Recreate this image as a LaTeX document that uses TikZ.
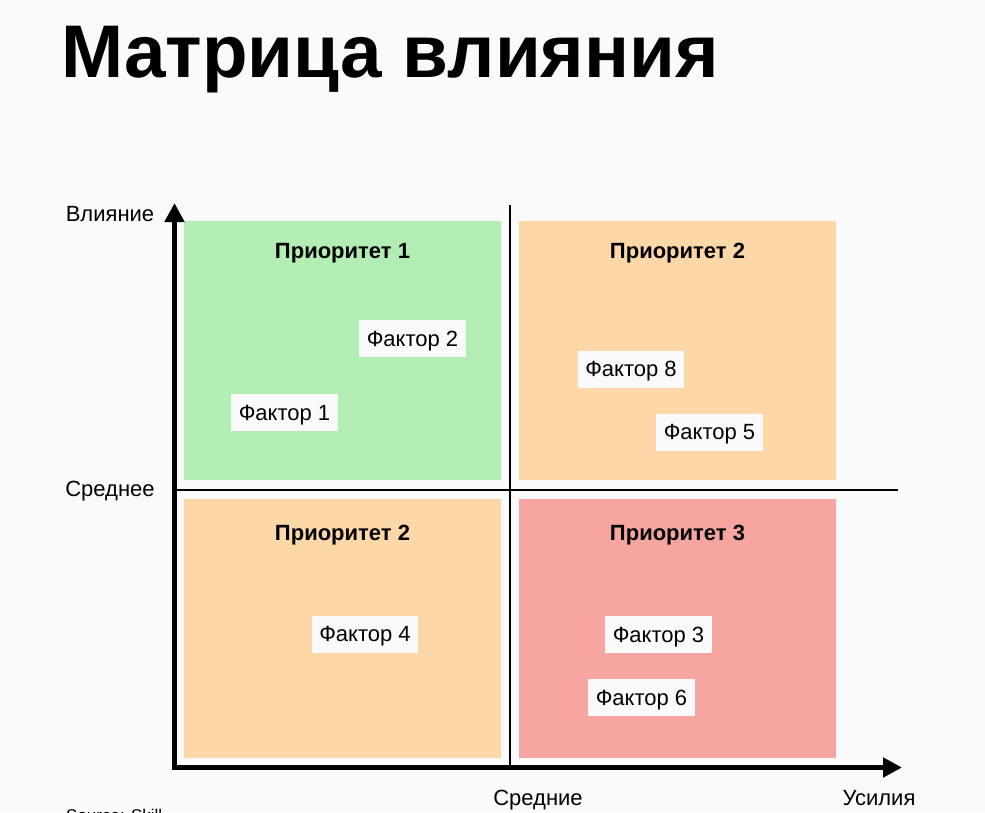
\documentclass[tikz,border=0pt]{standalone}
\usepackage{fontspec}
\setmainfont{Liberation Sans}
\usetikzlibrary{arrows.meta}
\definecolor{bgcol}{RGB}{250,250,250}
\definecolor{prioA}{RGB}{178,237,180}
\definecolor{prioB}{RGB}{252,215,167}
\definecolor{prioC}{RGB}{247,165,161}
\begin{document}
\begin{tikzpicture}[x=1pt, y=-1pt, line join=miter,
    >={Triangle[length=19pt, width=19pt]},
    quad/.style={minimum width=317pt, minimum height=259pt, inner sep=0pt, outer sep=0pt},
    head/.style={font=\fontsize{22}{26}\selectfont\bfseries, text depth=0pt},
    factor/.style={fill=bgcol, inner xsep=7.5pt, inner ysep=0pt, minimum height=37pt, text depth=0pt, font=\fontsize{22}{26}\selectfont},
    axlabel/.style={font=\fontsize{22}{26}\selectfont, text depth=0pt}]
    \fill[bgcol] (0,0) rectangle (985,812);
    \useasboundingbox (0,0) rectangle (985,812);
    \path
    (174.5, 767.5) coordinate (O)
    (174.5, 203) coordinate (Ytip)
    (902, 767.5) coordinate (Xtip)
    (510, 205) coordinate (Vtop)
    (510, 767.5) coordinate (Vbot)
    (174.5, 490) coordinate (Hl)
    (898, 490) coordinate (Hr);
    % title
    \node[anchor=base west, inner sep=0pt, font=\fontsize{74.6}{80}\selectfont\bfseries] (title) at (61, 77) {Матрица влияния};
    % quadrants
    \foreach \q/\cx/\cy/\col/\hy/\lbl in {
        qa/342.5/350.5/prioA/250.5/{Приоритет 1},
        qb/677.5/350.5/prioB/250.5/{Приоритет 2},
        qd/342.5/628.5/prioB/533/{Приоритет 2},
        qc/677.5/628.5/prioC/533/{Приоритет 3}
    } {
        \node[quad, fill=\col] (\q) at (\cx, \cy) {};
        \node[head] (\q-head) at (\cx, \hy) {\lbl};
    }
    % factors
    \foreach \n/\fx/\fy in {1/284.5/412.5, 2/412.5/338.5, 8/631/369, 5/709.5/432, 4/365/634, 3/658.5/634.5, 6/641.5/697.5} {
        \node[factor] (f\n) at (\fx, \fy) {Фактор \n};
    }
    % axes
    \draw[line width=2pt] (Vtop) -- (Vbot);
    \draw[line width=2pt] (Hl) -- (Hr);
    \draw[line width=5pt, <->] (Ytip) -- (O) -- (Xtip);
    \node[axlabel] (ylbl) at (110, 214) {Влияние};
    \node[axlabel] (ymid) at (110, 489) {Среднее};
    \node[axlabel] (xmid) at (538, 798) {Средние};
    \node[axlabel] (xlbl) at (879, 798) {Усилия};
    \node[anchor=base west, inner sep=0pt, font=\fontsize{17}{20}\selectfont] (src) at (66, 821) {Source: Skill};
\end{tikzpicture}
\end{document}
